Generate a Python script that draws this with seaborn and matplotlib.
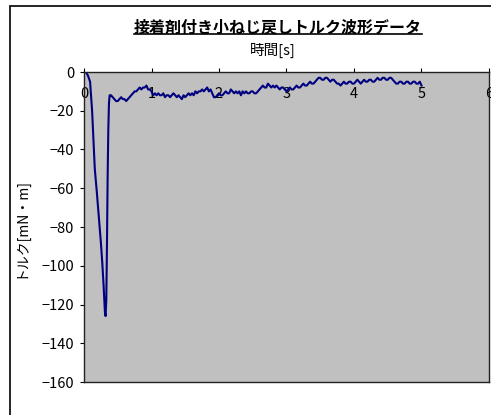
import numpy as np
import pandas as pd
import matplotlib
matplotlib.use("Agg")
import matplotlib.pyplot as plt
import seaborn as sns
from matplotlib.patches import Rectangle
from matplotlib.lines import Line2D

# datos: caida inicial (tiempo, torque)
t_caida = [0.00, 0.03, 0.06, 0.09, 0.12, 0.14, 0.16, 0.19, 0.22, 0.25, 0.27,
           0.29, 0.31, 0.32, 0.33, 0.34, 0.35, 0.36, 0.37, 0.38]
torque_caida = [0, 0, -2, -5, -20, -35, -50, -62, -75, -88, -98,
                -110, -124, -126, -118, -90, -55, -30, -16, -12]

# parte estable, muestreada cada 0.025 s desde 0.40 s hasta 5.00 s
torque_estable = [
    -12, -13, -14, -15, -15, -14, -13, -14, -14, -15, -14, -13, -12, -11, -10, -10, -9, -8, -9, -8,
    -8, -7, -9, -9, -10, -12, -11, -12, -11, -12, -12, -11, -13, -12, -12, -13, -12, -11, -12, -13,
    -12, -13, -14, -12, -13, -12, -11, -12, -11, -12, -10, -11, -10, -10, -9, -10, -9, -8, -10, -9,
    -11, -13, -13, -12, -11, -12, -12, -11, -10, -11, -11, -9, -10, -11, -10, -11, -10, -12, -10, -11,
    -10, -11, -11, -10, -10, -11, -11, -10, -9, -8, -7, -8, -8, -6, -7, -8, -7, -8, -7, -8,
    -9, -8, -8, -9, -10, -9, -8, -9, -9, -8, -7, -8, -8, -7, -6, -7, -7, -6, -5, -6,
    -6, -5, -4, -3, -3, -4, -4, -3, -3, -4, -5, -4, -4, -5, -6, -6, -7, -6, -5, -6,
    -6, -5, -5, -6, -6, -5, -4, -5, -6, -5, -4, -5, -5, -4, -4, -5, -5, -4, -3, -4,
    -4, -3, -3, -4, -4, -3, -3, -4, -5, -6, -6, -5, -5, -6, -6, -5, -5, -6, -6, -5,
    -5, -6, -6, -5, -7]
t_estable = list(np.round(np.linspace(0.40, 5.00, len(torque_estable)), 3))

x_ticks = [0, 1, 2, 3, 4, 5, 6]
y_ticks = [0, -20, -40, -60, -80, -100, -120, -140, -160]

titulo = "接着剤付き小ねじ戻しトルク波形データ"
x_label = "時間[s]"
y_label = "トルク[mN・m]"

df = pd.DataFrame({"tiempo": t_caida + t_estable,
                   "torque": torque_caida + torque_estable})

plt.rcParams["font.family"] = ["Noto Sans CJK JP", "DejaVu Sans"]

fig = plt.figure(figsize=(4.91, 4.15), dpi=100)
ax = fig.add_axes([84 / 491, 1 - 382 / 415, 405 / 491, 310 / 415])
ax.set_facecolor("#C0C0C0")

sns.lineplot(data=df, x="tiempo", y="torque", color="#000080", linewidth=1.5,
             ax=ax, sort=False)

ax.set_xlim(0, 6)
ax.set_ylim(-160, 0)
ax.set_xticks(x_ticks)
ax.set_yticks(y_ticks)
ax.set_yticklabels([str(v).replace("-", "\u2212") for v in y_ticks])
ax.set_xlabel("")
ax.set_ylabel("")
ax.tick_params(axis="x", top=True, bottom=False, labeltop=True, labelbottom=False,
               direction="out", length=3, pad=-24, labelsize=10.5)
ax.tick_params(axis="y", direction="out", length=3, labelsize=10.5, pad=4)
for s in ax.spines.values():
    s.set_color("#222222")
    s.set_linewidth(1)

# borde del area del grafico
fig.patches.append(Rectangle((10 / 491, -0.05), 1.0, 1 - 6 / 415 + 0.05,
                             transform=fig.transFigure, fill=False,
                             edgecolor="black", linewidth=1.2))

t = fig.text(278 / 491, 1 - 27 / 415, titulo, ha="center", va="center",
             fontsize=11.5, fontweight="bold")
fig.text(273 / 491, 1 - 50 / 415, x_label, ha="center", va="center", fontsize=10.5)
fig.text(20 / 491, 1 - 227 / 415, y_label, ha="center", va="center",
         rotation=90, fontsize=10)

# subrayado del titulo
fig.canvas.draw()
bb = t.get_window_extent().transformed(fig.transFigure.inverted())
fig.lines.append(Line2D([bb.x0, bb.x1], [bb.y0 + 0.002, bb.y0 + 0.002],
                        transform=fig.transFigure, color="black", linewidth=1.2))

fig.savefig("out.png", dpi=100)
